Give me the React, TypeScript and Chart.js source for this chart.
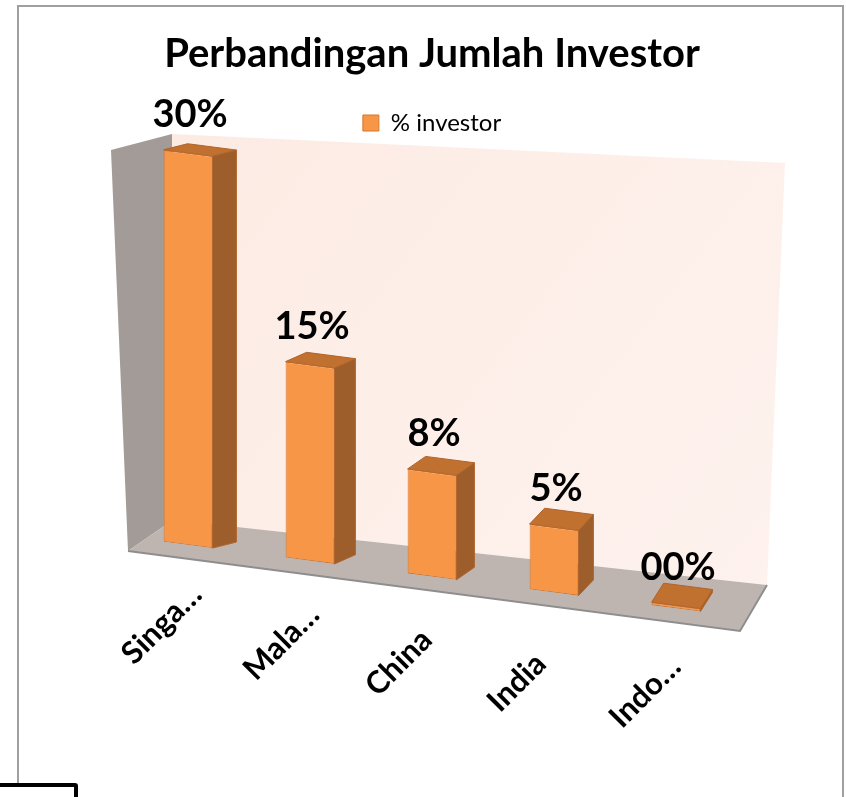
import React, { useEffect, useRef } from 'react';
import { Chart, registerables } from 'chart.js';

Chart.register(...registerables);

const chartTitle = 'Perbandingan Jumlah Investor';
const seriesName = '% investor';
const categories = ['Singa…', 'Mala…', 'China', 'India', 'Indo…'];
const investorPct = [30, 15, 8, 5, 0];
const valueLabels = ['30%', '15%', '8%', '5%', '00%'];

const K = 0.13; // floor slope of the perspective view
const FRONT = '#F79646';
const SIDE = '#9D5E2B';
const TOP = '#C0712F';
const EDGE = '#D7762C';

type Pt = [number, number];

const poly = (ctx: CanvasRenderingContext2D, pts: Pt[], fill: any, stroke?: string, lw = 1) => {
  ctx.beginPath();
  ctx.moveTo(pts[0][0], pts[0][1]);
  for (let i = 1; i < pts.length; i++) ctx.lineTo(pts[i][0], pts[i][1]);
  ctx.closePath();
  ctx.fillStyle = fill;
  ctx.fill();
  if (stroke) {
    ctx.strokeStyle = stroke;
    ctx.lineWidth = lw;
    ctx.stroke();
  }
};

const threeD = {
  id: 'threeD',
  beforeDatasetsDraw(chart: any) {
    const { ctx, chartArea } = chart;
    const L = chartArea.left, R = chartArea.right, B = chartArea.bottom;
    // side wall
    poly(ctx, [[L - 16, B - 387], [L + 45, B - 403], [L + 46, B - 17], [L + 1, B + 14]], '#A39B97');
    // back wall
    const g = ctx.createLinearGradient(L + 45, B - 403, R + 30, B + 48);
    g.addColorStop(0, '#FCEBE3');
    g.addColorStop(1, '#FEF2EE');
    poly(ctx, [[L + 45, B - 403], [R + 48, B - 374], [R + 30, B + 48], [L + 46, B - 17]], g);
    // floor
    poly(ctx, [[L + 46, B - 17], [R + 30, B + 48], [R + 3, B + 94], [L + 1, B + 14]], '#BEB5B1');
    ctx.save();
    ctx.beginPath();
    ctx.moveTo(L + 1, B + 14);
    ctx.lineTo(R + 3, B + 94);
    ctx.lineTo(R + 30, B + 48);
    ctx.strokeStyle = '#8E8E8E';
    ctx.lineWidth = 2;
    ctx.stroke();
    ctx.restore();
    // perspective shear for the bars
    ctx.save();
    ctx.transform(1, K, 0, 1, 0, -K * L);
  },
  afterDatasetsDraw(chart: any) {
    const { ctx, chartArea } = chart;
    ctx.restore();
    const L = chartArea.left, R = chartArea.right;
    const S = (x: number, y: number): Pt => [x, y + K * (x - L)];
    const meta = chart.getDatasetMeta(0);
    meta.data.forEach((bar: any) => {
      const { x, y, base, width } = bar.getProps(['x', 'y', 'base', 'width'], true);
      const t = (x - L) / (R - L);
      const dx = 25.5 - 15 * t;
      const dy = -4.4 - 16.25 * t;
      const xl = x - width / 2, xr = x + width / 2;
      const frt = S(xr, y), frb = S(xr, base), flt = S(xl, y);
      const add = (p: Pt): Pt => [p[0] + dx, p[1] + dy];
      poly(ctx, [frt, frb, add(frb), add(frt)], SIDE, '#B0642A', 1);
      poly(ctx, [flt, frt, add(frt), add(flt)], TOP, '#B0642A', 1);
    });
  },
  afterDraw(chart: any) {
    const { ctx, chartArea } = chart;
    const L = chartArea.left, B = chartArea.bottom;
    const meta = chart.getDatasetMeta(0);
    const xScale = chart.scales.x;
    ctx.save();
    ctx.fillStyle = '#000';
    ctx.font = 'bold 38px Lato';
    ctx.textAlign = 'center';
    ctx.textBaseline = 'middle';
    meta.data.forEach((bar: any, i: number) => {
      const { x, y } = bar.getProps(['x', 'y'], true);
      ctx.fillText(valueLabels[i], x + 2, y + K * (x - L) - 38);
    });
    ctx.font = 'bold 31px Lato';
    ctx.textAlign = 'left';
    categories.forEach((lab, i) => {
      const x = xScale.getPixelForValue(i);
      ctx.save();
      ctx.translate(x - 61, B + K * (x - L) + 114);
      ctx.rotate(-Math.PI / 4);
      ctx.fillText(lab, 0, 0);
      ctx.restore();
    });
    ctx.restore();
  },
};

export default function App() {
  const ref = useRef<HTMLCanvasElement>(null);
  useEffect(() => {
    if (!ref.current) return;
    const chart = new Chart(ref.current, {
      type: 'bar',
      data: {
        labels: categories,
        datasets: [
          {
            label: seriesName,
            data: investorPct,
            backgroundColor: FRONT,
            borderColor: EDGE,
            borderWidth: 1,
            borderSkipped: false,
            barPercentage: 0.4,
            categoryPercentage: 1,
            minBarLength: 3,
            clip: false as any,
          },
        ],
      },
      options: {
        responsive: false,
        animation: false,
        devicePixelRatio: 1,
        layout: { padding: { left: 127, right: 109, top: 0, bottom: 260 } },
        scales: {
          x: { display: false },
          y: { display: false, min: 0, max: 30 },
        },
        plugins: {
          title: {
            display: true,
            text: chartTitle,
            color: '#000',
            font: { family: 'Lato', size: 40, weight: 'bold' },
            padding: { top: 30, bottom: 23 },
          },
          legend: {
            display: true,
            position: 'top',
            labels: {
              color: '#000',
              font: { family: 'Lato', size: 24 },
              boxWidth: 16,
              boxHeight: 16,
              padding: 10,
            },
          },
          tooltip: { enabled: false },
        },
      },
      plugins: [threeD],
    });
    return () => chart.destroy();
  }, []);

  return (
    <div style={{ position: 'fixed', left: 0, top: 0, width: 846, height: 797, overflow: 'hidden', background: '#fff' }}>
      <div
        style={{
          position: 'absolute',
          left: 17,
          top: 5,
          width: 823,
          height: 900,
          border: '2px solid #A0A0A0',
        }}
      />
      <canvas ref={ref} width={846} height={797} style={{ position: 'absolute', left: 0, top: 0, width: 846, height: 797 }} />
      <div
        style={{
          position: 'absolute',
          left: -10,
          top: 783,
          width: 80,
          height: 40,
          border: '4px solid #000',
          borderRadius: 3,
          background: '#fff',
        }}
      />
    </div>
  );
}
